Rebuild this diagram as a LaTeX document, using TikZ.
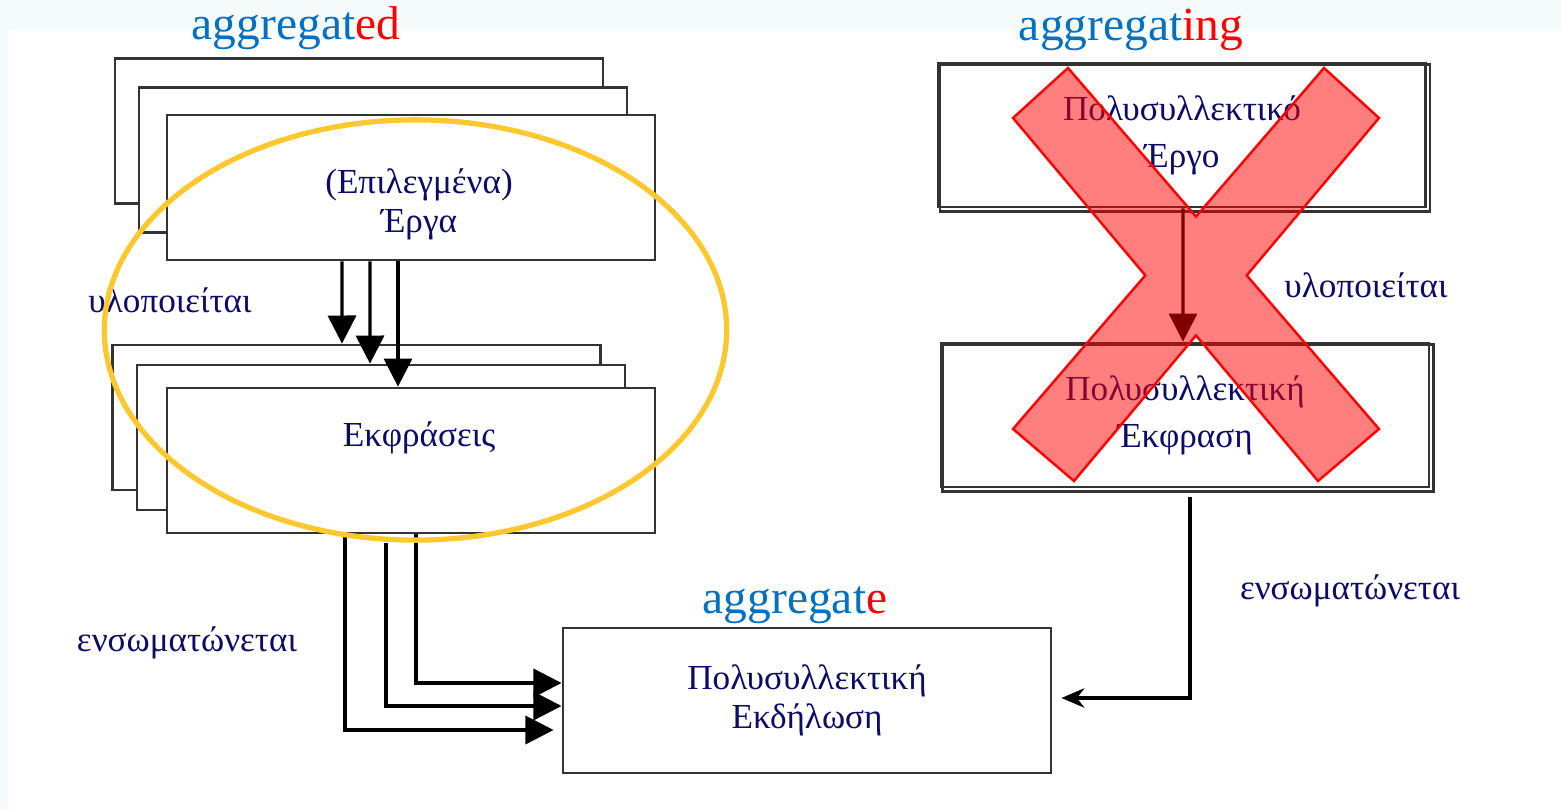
\documentclass[tikz,border=0pt]{standalone}
\usepackage{fontspec}
\setmainfont{Liberation Serif}
\usetikzlibrary{positioning, arrows.meta}

\definecolor{inkblue}{RGB}{12,12,104}
\definecolor{aggblue}{RGB}{0,112,192}
\definecolor{aggred}{RGB}{255,0,0}
\definecolor{ringyellow}{RGB}{252,200,48}
\definecolor{paper}{RGB}{245,250,250}

\tikzset{
  card/.style={rectangle, draw=black!80, line width=0.75pt, fill=white, minimum width=4.88cm, minimum height=1.45cm, inner sep=0pt},
  boxtext/.style={text=inkblue, font=\fontsize{10}{11}\selectfont, align=center},
  verb/.style={text=inkblue, font=\fontsize{10}{12}\selectfont},
  tag/.style={font=\fontsize{13.5}{15}\selectfont},
  flow/.style={line width=0.9pt, -{Triangle[length=8pt, width=8pt]}},
}

\begin{document}
\begin{tikzpicture}[x=0.01cm, y=-0.01cm]
\useasboundingbox (0,0) rectangle (1561,810);
\fill[paper] (0,0) rectangle (1561,810);
\fill[white] (9,30) rectangle (1561,810);

% aggregated: stacked works and expressions
\node[tag] (tagd) at (296,28) {\textcolor{aggblue}{aggregat}\textcolor{aggred}{ed}};
\node[card] (ergab) at (359,131) {};
\node[card] (ergam) at (383,160) {};
\node[card, label={[boxtext, shift={(0.08cm,-0.17cm)}]center:{(Επιλεγμένα)\\Έργα}}] (erga) at (411,187.5) {};

\node[card] (ekfb) at (356.5,417.5) {};
\node[card] (ekfm) at (381,437.5) {};
\node[card, label={[boxtext, shift={(0.08cm,0.23cm)}]center:{Εκφράσεις}}] (ekf) at (411,460.5) {};

\node[verb] (impl1) at (170,300) {υλοποιείται};
\node[verb] (emb1) at (187,643) {ενσωματώνεται};

\draw[flow] ([xshift=-0.69cm]erga.south) -- ([xshift=-0.145cm]ekfb.north);
\draw[flow] ([xshift=-0.41cm]erga.south) -- ([xshift=-0.11cm]ekfm.north);
\draw[flow] ([xshift=-0.13cm]erga.south) -- ([xshift=-0.13cm]ekf.north);

% aggregate
\node[tag] (tage) at (795,605) {\textcolor{aggblue}{aggregat}\textcolor{aggred}{e}};
\node[card, boxtext] (target) at (807,700.5) {Πολυσυλλεκτική\\Εκδήλωση};

\draw[flow] ([xshift=-0.66cm]ekf.south) |- ([shift={(-0.08cm,-0.295cm)}]target.west);
\draw[flow] ([shift={(-0.25cm,-0.09cm)}]ekf.south) |- ([yshift=-0.055cm]target.west);
\draw[flow] ([xshift=0.05cm]ekf.south) |- ([yshift=0.175cm]target.west);

% aggregating
\node[tag] (tagg) at (1131,30) {\textcolor{aggblue}{aggregat}\textcolor{aggred}{ing}};
\node[card, minimum width=4.87cm, minimum height=1.44cm, boxtext, font=\fontsize{10}{13.4}\selectfont] (poerg) at (1182,135) {Πολυσυλλεκτικό\\Έργο};
\draw[black!80, line width=0.75pt] ([shift={(0.03cm,-0.03cm)}]poerg.south west) rectangle ([shift={(0.03cm,-0.03cm)}]poerg.north east);
\node[card, minimum width=4.88cm, minimum height=1.44cm, boxtext, font=\fontsize{10}{13.4}\selectfont] (poekf) at (1185,415) {Πολυσυλλεκτική\\Έκφραση};
\draw[black!80, line width=0.75pt] ([shift={(0.03cm,-0.03cm)}]poekf.south west) rectangle ([shift={(0.03cm,-0.03cm)}]poekf.north east);

\node[verb] (impl2) at (1366,285) {υλοποιείται};
\node[verb] (emb2) at (1350,591) {ενσωματώνεται};

\draw[flow] ([xshift=0.01cm]poerg.south) -- ([xshift=-0.02cm]poekf.north);
\draw[line width=0.9pt, -{Stealth[length=6.5pt, width=5.5pt]}] ([shift={(0.05cm,-0.09cm)}]poekf.south) |- ([shift={(0.09cm,0.025cm)}]target.east);

% crossed out
\filldraw[fill=red, fill opacity=0.5, draw=red, line width=0.7pt]
  (1013,118) -- (1068,68) -- (1196,216.6) -- (1324,68) -- (1379,118) -- (1246.7,275.4)
  -- (1379,429) -- (1318,481) -- (1196,335.4) -- (1074,481) -- (1013,429) -- (1145.3,275.4) -- cycle;

% highlight
\draw[ringyellow, line width=1.5pt] (415.5,330) ellipse [x radius=3.11cm, y radius=2.10cm];
\end{tikzpicture}
\end{document}
